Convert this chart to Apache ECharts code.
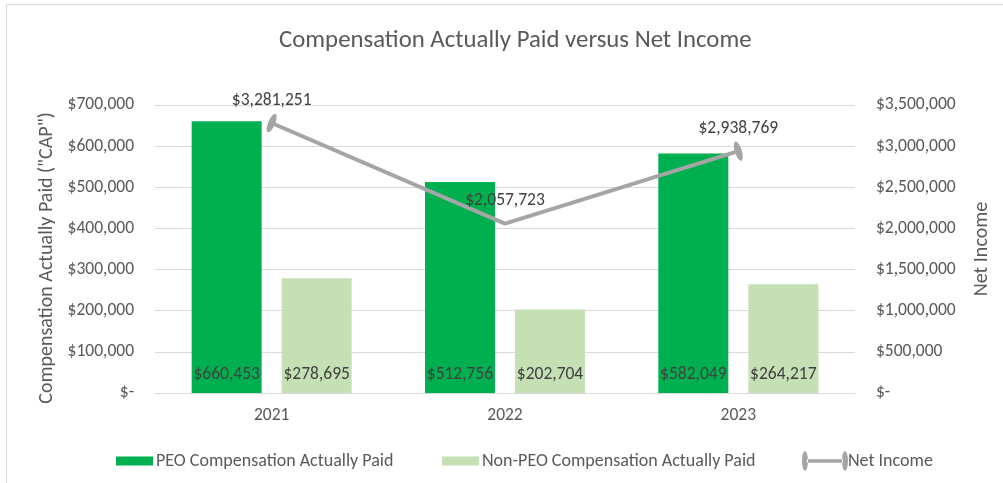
<!DOCTYPE html>
<html><head><meta charset="utf-8">
<script src="https://cdn.jsdelivr.net/npm/echarts@6/dist/echarts.min.js"></script>
<style>html,body{margin:0;padding:0;background:#fff}#c{width:1003px;height:483px}</style>
</head><body><div id="c"></div>
<script>
const categories = ['2021', '2022', '2023'];
const peoCap = [660453, 512756, 582049];
const nonPeoCap = [278695, 202704, 264217];
const netIncome = [3281251, 2057723, 2938769];
const leftTicks = [0, 100000, 200000, 300000, 400000, 500000, 600000, 700000];
const rightTicks = [0, 500000, 1000000, 1500000, 2000000, 2500000, 3000000, 3500000];

const FONT = 'Carlito, Lato, sans-serif';
const TXT = '#595959';
const FS = 17.5;
const money = v => v === 0 ? '$-' : '$' + v.toLocaleString('en-US');
const ellipse = 'path://M0,10 A3,10 0 1,0 6,10 A3,10 0 1,0 0,10 Z';
const markerRot = [-23, null, 17];

const chart = echarts.init(document.getElementById('c'), null, {renderer: 'canvas'});
chart.setOption({
  backgroundColor: '#fff',
  animation: false,
  textStyle: {fontFamily: FONT},
  title: {
    text: 'Compensation Actually Paid versus Net Income',
    left: 274, top: 23,
    textStyle: {fontFamily: FONT, fontSize: 24.8, fontWeight: 'normal', color: TXT}
  },
  graphic: [
    {type: 'line', shape: {x1: 6, y1: 4.5, x2: 1003, y2: 4.5}, style: {stroke: '#D9D9D9', lineWidth: 1}},
    {type: 'line', shape: {x1: 6.5, y1: 4, x2: 6.5, y2: 483}, style: {stroke: '#D9D9D9', lineWidth: 1}}
  ],
  legend: [
    {data: ['PEO Compensation Actually Paid'], left: 111, top: 447, itemWidth: 37, itemHeight: 9, itemGap: 0,
     textStyle: {fontFamily: FONT, fontSize: 18, color: TXT, padding: [0, 0, 0, -2]}, icon: 'rect'},
    {data: ['Non-PEO Compensation Actually Paid'], left: 437, top: 447, itemWidth: 37, itemHeight: 9, itemGap: 0,
     textStyle: {fontFamily: FONT, fontSize: 18, color: TXT, padding: [0, 0, 0, -2]}, icon: 'rect'},
    {data: [{name: 'Net Income', icon: 'path://M0,10 A3,10 0 1,0 6,10 A3,10 0 1,0 0,10 Z M5,8.2 L41,8.2 L41,11.8 L5,11.8 Z M40,10 A3,10 0 1,0 46,10 A3,10 0 1,0 40,10 Z'}],
     left: 797, top: 446, itemWidth: 46, itemHeight: 20, itemGap: 0,
     textStyle: {fontFamily: FONT, fontSize: 18, color: TXT, padding: [0, 0, 0, -5]}}
  ],
  grid: {left: 155, right: 148, top: 105, bottom: 90, containLabel: false},
  xAxis: {
    type: 'category', data: categories,
    axisLine: {lineStyle: {color: '#D9D9D9'}},
    axisTick: {show: false},
    axisLabel: {color: TXT, fontSize: FS, fontFamily: FONT, margin: 14}
  },
  yAxis: [
    {
      type: 'value', min: leftTicks[0], max: leftTicks[leftTicks.length - 1], interval: leftTicks[1] - leftTicks[0],
      name: 'Compensation Actually Paid ("CAP")', nameLocation: 'middle', nameGap: 98,
      nameTextStyle: {color: TXT, fontSize: 20, fontFamily: FONT, padding: [0, 18, 0, 0]},
      axisLine: {show: false}, axisTick: {show: false},
      splitLine: {lineStyle: {color: '#D9D9D9'}},
      axisLabel: {color: TXT, fontSize: FS, fontFamily: FONT, margin: 21, formatter: money}
    },
    {
      type: 'value', min: rightTicks[0], max: rightTicks[rightTicks.length - 1], interval: rightTicks[1] - rightTicks[0],
      name: 'Net Income', nameLocation: 'middle', nameGap: 117,
      nameTextStyle: {color: TXT, fontSize: 20, fontFamily: FONT},
      axisLine: {show: false}, axisTick: {show: false},
      splitLine: {show: false},
      axisLabel: {color: TXT, fontSize: FS, fontFamily: FONT, margin: 21, formatter: money}
    }
  ],
  series: [
    {
      name: 'PEO Compensation Actually Paid', type: 'bar', yAxisIndex: 0, data: peoCap,
      barWidth: 70, barGap: '28.6%',
      itemStyle: {color: '#00B050'},
      label: {show: true, position: 'insideBottom', distance: 9, color: '#404040', fontSize: FS, fontFamily: FONT,
        formatter: p => money(p.value)}
    },
    {
      name: 'Non-PEO Compensation Actually Paid', type: 'bar', yAxisIndex: 0, data: nonPeoCap,
      barWidth: 70, barGap: '28.6%',
      itemStyle: {color: '#C5E0B4'},
      label: {show: true, position: 'insideBottom', distance: 9, color: '#404040', fontSize: FS, fontFamily: FONT,
        formatter: p => money(p.value)}
    },
    {
      name: 'Net Income', type: 'line', yAxisIndex: 1,
      data: netIncome.map((v, i) => markerRot[i] === null
        ? {value: v, symbol: 'circle', symbolSize: 0.01, label: {distance: 14}}
        : {value: v, symbol: ellipse, symbolSize: [7, 20], symbolRotate: markerRot[i], label: {distance: 3}}),
      lineStyle: {color: '#A5A5A5', width: 4},
      itemStyle: {color: '#A5A5A5'},
      showAllSymbol: true,
      label: {show: true, position: 'top', color: '#404040', fontSize: FS, fontFamily: FONT,
        formatter: p => money(p.value)},
      z: 5
    }
  ]
});
</script></body></html>
